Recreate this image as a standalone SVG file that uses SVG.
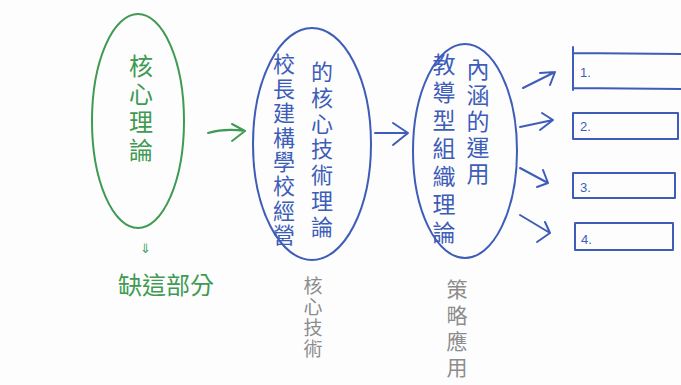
<svg xmlns="http://www.w3.org/2000/svg" width="681" height="385" viewBox="0 0 681 385">
<defs>
<style>
.g{fill:none;stroke:#3f9a52;stroke-width:2;stroke-linecap:round;stroke-linejoin:round}
.b{fill:none;stroke:#3d5db8;stroke-width:2;stroke-linecap:round;stroke-linejoin:round}
text{font-family:"Noto Sans CJK TC","Noto Sans CJK SC",sans-serif}
.v{writing-mode:vertical-rl;text-orientation:upright;text-anchor:start}
.tg{fill:#3f9a52}
.tb{fill:#3d5db8}
.tgr{fill:#8c8c8c}
.num{fill:#3d5db8;font-size:13px;font-family:"Liberation Sans",sans-serif}
</style>
</defs>
<rect width="681" height="385" fill="#fdfdfe"/>
<g id="node-core">
<ellipse class="g" cx="138" cy="121" rx="46" ry="107"/>
<text class="tg v" x="141" y="54" style="font-size:24px;letter-spacing:4px">核心理論</text>
</g>
<g id="node-missing">
<text class="tg" x="145" y="253" style="font-size:13px;text-anchor:middle">⇓</text>
<text class="tg" x="166" y="294" style="font-size:24px;text-anchor:middle">缺這部分</text>
</g>
<g id="node-tech">
<ellipse class="b" cx="312" cy="144" rx="59" ry="116"/>
<text class="tb v" x="284" y="53" style="font-size:22px;letter-spacing:2.4px">校長建構學校經營</text>
<text class="tb v" x="322" y="61" style="font-size:22px;letter-spacing:3.7px">的核心技術理論</text>
</g>
<g id="label-tech">
<text class="tgr v" x="313" y="276" style="font-size:19px;letter-spacing:2px">核心技術</text>
</g>
<g id="node-org">
<ellipse class="b" cx="465" cy="151" rx="52" ry="107"/>
<text class="tb v" x="444" y="53" style="font-size:23px;letter-spacing:5px">教導型組織理論</text>
<text class="tb v" x="478" y="58" style="font-size:23px;letter-spacing:3px">內涵的運用</text>
</g>
<g id="label-strategy">
<text class="tgr v" x="457" y="279" style="font-size:21px;letter-spacing:5px">策略應用</text>
</g>
<g id="box-1">
<path class="b" d="M573,47 L573,90 M573,53 L690,54 M573,88 L690,89"/>
<text class="num" x="580" y="77">1.</text>
</g>
<g id="box-2">
<rect class="b" x="573" y="113" width="105" height="26"/>
<text class="num" x="580" y="131">2.</text>
</g>
<g id="box-3">
<rect class="b" x="573" y="173" width="102" height="25"/>
<text class="num" x="580" y="192">3.</text>
</g>
<g id="box-4">
<rect class="b" x="575" y="223" width="98" height="27"/>
<text class="num" x="581" y="244">4.</text>
</g>
<g id="connectors">
<path class="g" d="M208,133 Q225,128 245,131 M232,124 L245,131 L232,141"/>
<path class="b" d="M375,133 L408,133 M393,123 L408,133 L393,145"/>
<path class="b" d="M523,88 L555,72 M540,73 L555,72 L550,85"/>
<path class="b" d="M520,127 L553,120 M542,113 L553,120 L540,130"/>
<path class="b" d="M520,168 L548,183 M543,170 L548,183 L537,187"/>
<path class="b" d="M520,215 L550,233 M545,222 L550,233 L537,242"/>
</g>
</svg>
